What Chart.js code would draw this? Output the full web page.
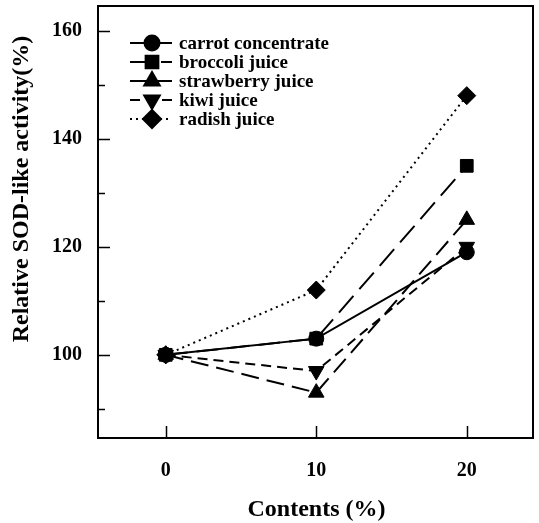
<!DOCTYPE html>
<html><head><meta charset="utf-8">
<script src="https://cdn.jsdelivr.net/npm/chart.js@4.4.0/dist/chart.umd.min.js"></script>
<style>html,body{margin:0;padding:0;background:#fff;}#wrap{width:539px;height:523px;}</style>
</head><body><div id="wrap"><canvas id="c" width="539" height="523"></canvas></div>
<script>
const contents = [0, 10, 20];
const carrot = [100, 103, 119];
const broccoli = [100, 103, 135];
const strawberry = [100, 93, 125];
const kiwi = [100, 97, 120];
const radish = [100, 112, 148];
const seriesNames = ['carrot concentrate', 'broccoli juice', 'strawberry juice', 'kiwi juice', 'radish juice'];
const yMajorTicks = [100, 120, 140, 160];
const yMinorTicks = [90, 110, 130, 150];
const xTicks = [0, 10, 20];
const xTitle = 'Contents (%)';
const yTitle = 'Relative SOD-like activity(%)';

const FONT = '"Liberation Serif", "Times New Roman", serif';
const toPts = arr => contents.map((x, i) => ({x: x, y: arr[i]}));

function ds(label, arr, style, radius, rot, dash) {
  return {
    label: label, data: toPts(arr),
    borderColor: '#000', backgroundColor: '#000',
    borderWidth: 2, borderDash: dash,
    pointStyle: style, pointRadius: radius, pointRotation: rot,
    pointBackgroundColor: '#000', pointBorderColor: '#000', pointBorderWidth: 1,
    tension: 0, fill: false, clip: false
  };
}

const datasets = [
  ds(seriesNames[0], carrot, 'circle', 7.5, 0, []),
  ds(seriesNames[1], broccoli, 'rect', 9, 0, [22, 9]),
  ds(seriesNames[2], strawberry, 'triangle', 9, 0, [18, 8]),
  ds(seriesNames[3], kiwi, 'triangle', 9, 180, [10, 6]),
  ds(seriesNames[4], radish, 'rectRot', 9, 0, [2, 4])
];

const decor = {
  id: 'decor',
  afterDraw(chart) {
    const ctx = chart.ctx;
    const a = chart.chartArea;
    const xs = chart.scales.x, ys = chart.scales.y;
    ctx.save();
    ctx.strokeStyle = '#000';
    ctx.lineWidth = 2;
    ctx.strokeRect(a.left, a.top, a.right - a.left, a.bottom - a.top);
    ctx.lineWidth = 1.5;
    ctx.beginPath();
    yMajorTicks.forEach(v => { const y = Math.round(ys.getPixelForValue(v)) + 0.5; ctx.moveTo(a.left, y); ctx.lineTo(a.left + 12, y); });
    yMinorTicks.forEach(v => { const y = Math.round(ys.getPixelForValue(v)) + 0.5; ctx.moveTo(a.left, y); ctx.lineTo(a.left + 7, y); });
    xTicks.forEach(v => { const x = Math.round(xs.getPixelForValue(v)) + 0.5; ctx.moveTo(x, a.bottom); ctx.lineTo(x, a.bottom - 12); });
    ctx.stroke();

    // axis titles
    ctx.fillStyle = '#000';
    ctx.font = 'bold 24px ' + FONT;
    ctx.textAlign = 'center';
    ctx.textBaseline = 'middle';
    ctx.fillText(xTitle, (a.left + a.right) / 2 + 1, 510);
    ctx.save();
    ctx.translate(22, 189);
    ctx.rotate(-Math.PI / 2);
    ctx.fillText(yTitle, 0, 0);
    ctx.restore();

    // legend
    ctx.font = 'bold 19px ' + FONT;
    ctx.textAlign = 'left';
    chart.data.datasets.forEach((d, i) => {
      const y = 43 + i * 19;
      ctx.strokeStyle = '#000';
      ctx.lineWidth = 2;
      ctx.setLineDash(d.borderDash);
      ctx.beginPath();
      ctx.moveTo(130, y); ctx.lineTo(172, y);
      ctx.stroke();
      ctx.setLineDash([]);
      ctx.fillStyle = '#000';
      Chart.helpers.drawPoint(ctx, {pointStyle: d.pointStyle, rotation: d.pointRotation, radius: d.pointRadius, borderWidth: 1}, 152, y);
      ctx.fillText(d.label, 179, y + 1);
    });
    ctx.restore();
  }
};

new Chart(document.getElementById('c'), {
  type: 'line',
  data: {datasets: datasets},
  options: {
    responsive: false, animation: false, devicePixelRatio: 1,
    layout: {autoPadding: false, padding: {top: 6, right: 6, left: 0, bottom: 0}},
    plugins: {legend: {display: false}, tooltip: {enabled: false}},
    scales: {
      x: {
        type: 'linear', min: -4.5, max: 24.4,
        afterBuildTicks: s => { s.ticks = xTicks.map(v => ({value: v})); },
        afterFit: s => { s.height = 85; s.paddingLeft = 0; s.paddingRight = 0; },
        grid: {display: false, drawTicks: false},
        border: {display: false},
        ticks: {padding: 21, color: '#000', font: {family: FONT, size: 20, weight: 'bold'}, maxRotation: 0}
      },
      y: {
        type: 'linear', min: 84.6, max: 164.6,
        afterBuildTicks: s => { s.ticks = yMajorTicks.map(v => ({value: v})); },
        afterFit: s => { s.width = 98; s.paddingTop = 0; s.paddingBottom = 0; },
        grid: {display: false, drawTicks: false},
        border: {display: false},
        ticks: {padding: 16, color: '#000', font: {family: FONT, size: 20, weight: 'bold'}}
      }
    }
  },
  plugins: [decor]
});
</script></body></html>
